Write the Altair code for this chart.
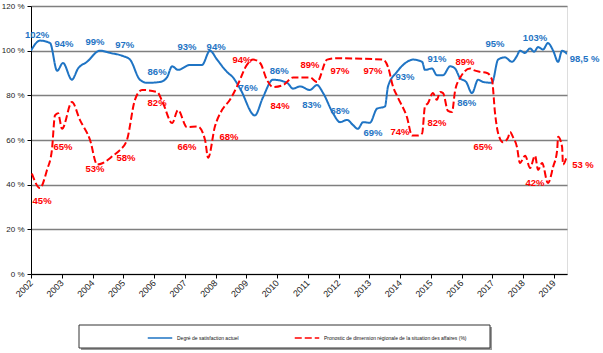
import altair as alt
import pandas as pd

# ---- data ----
blue_year = [2002.0, 2002.29, 2002.62, 2002.85, 2003.04, 2003.33, 2003.53, 2003.82, 2004.24, 2004.57,
             2004.99, 2005.22, 2005.54, 2005.77, 2006.20, 2006.42, 2006.59, 2006.78, 2007.17, 2007.56,
             2007.82, 2008.05, 2008.37, 2008.57, 2008.80, 2009.28, 2009.54, 2009.87, 2010.33, 2010.52,
             2010.75, 2011.07, 2011.30, 2011.50, 2011.82, 2012.05, 2012.28, 2012.47, 2012.63, 2012.80,
             2013.02, 2013.25, 2013.51, 2013.61, 2013.90, 2014.23, 2014.42, 2014.72, 2014.81, 2015.04,
             2015.20, 2015.40, 2015.63, 2015.79, 2015.95, 2016.15, 2016.34, 2016.54, 2016.70, 2016.99,
             2017.19, 2017.41, 2017.64, 2017.80, 2017.90, 2018.06, 2018.23, 2018.36, 2018.49, 2018.65,
             2018.81, 2018.98, 2019.14, 2019.27, 2019.43]
blue_val = [100, 104.5, 103.4, 91, 94.5, 87, 92, 95, 100, 99,
            97.6, 96, 87, 85.6, 86, 88, 93, 91.4, 93.6, 93.6,
            100, 96, 90.5, 88, 83, 71, 79, 87, 85.6, 83,
            84, 82.4, 84.6, 81, 72, 68, 69, 66.7, 65, 68,
            67.7, 74, 75, 84, 90.5, 95, 96, 95, 91.4, 92,
            89, 89, 93, 92, 87.7, 86, 81, 87, 86, 85.6,
            96, 97, 95, 97.6, 100, 99, 101, 99.5, 101.6, 100.5,
            103.4, 100, 95, 100, 98.5]

red_year = [2002.03, 2002.29, 2002.52, 2002.68, 2002.78, 2002.88, 2003.01, 2003.33, 2003.59, 2003.92,
            2004.15, 2004.34, 2004.67, 2004.89, 2005.12, 2005.38, 2005.61, 2006.10, 2006.29, 2006.59,
            2006.78, 2007.07, 2007.43, 2007.66, 2007.76, 2007.98, 2008.21, 2008.47, 2008.70, 2009.02,
            2009.22, 2009.45, 2009.67, 2009.87, 2010.20, 2010.52, 2011.07, 2011.30, 2011.63, 2011.95,
            2013.45, 2013.61, 2013.77, 2013.93, 2014.23, 2014.39, 2014.59, 2014.72, 2014.81, 2014.91,
            2015.07, 2015.20, 2015.30, 2015.40, 2015.56, 2015.69, 2015.79, 2015.95, 2016.28, 2016.37,
            2016.60, 2016.83, 2016.99, 2017.09, 2017.19, 2017.35, 2017.51, 2017.58, 2017.67, 2017.80,
            2017.90, 2018.07, 2018.23, 2018.39, 2018.49, 2018.62, 2018.81, 2018.98, 2019.11, 2019.14,
            2019.27, 2019.30, 2019.43]
red_val = [45, 38.5, 46.6, 55.5, 71, 72, 65, 77, 69, 60,
           49, 49.7, 53, 55.5, 60, 78, 82.4, 81.5, 76.6, 67.6,
           73.4, 65.8, 66, 60, 52, 66, 73.4, 78, 84, 93.6,
           96, 94.5, 87, 83.7, 84.6, 88, 88, 86, 96, 96.6,
           96, 92.7, 84, 79, 70, 62, 62, 63, 75, 76.5,
           81, 78, 81.5, 81, 73, 72.5, 82, 87.7, 92, 91.4,
           90.5, 90, 87, 72, 63, 59, 61, 63.6, 61.4, 57,
           49.7, 53, 47.5, 53, 46.6, 49.7, 40.7, 48, 55.5, 61.4,
           57, 49, 53]

blue_lab_text = ["102%", "94%", "99%", "97%", "86%", "93%", "94%", "76%", "86%", "83%",
                 "68%", "69%", "93%", "91%", "86%", "95%", "103%", "98,5 %"]
blue_lab_x = [2002.2, 2003.07, 2004.08, 2005.05, 2006.1, 2007.07, 2008.02, 2009.06, 2010.07, 2011.13,
              2012.05, 2013.12, 2014.16, 2015.2, 2016.17, 2017.09, 2018.39, 2020.0]
blue_lab_y = [107, 103, 103.9, 102.5, 90.5, 101.7, 101.7, 83.3, 91, 75.7,
              73, 63.2, 88.2, 96.3, 76.6, 103, 105.7, 96.3]

red_lab_text = ["45%", "65%", "53%", "58%", "82%", "66%", "68%", "94%", "84%", "89%",
                "97%", "97%", "74%", "82%", "89%", "65%", "42%", "53 %"]
red_lab_x = [2002.36, 2003.04, 2004.08, 2005.09, 2006.1, 2007.07, 2008.44, 2008.86, 2010.1, 2011.07,
             2012.05, 2013.12, 2014.0, 2015.2, 2016.11, 2016.7, 2018.39, 2019.95]
red_lab_y = [32.7, 56.9, 47, 52, 76.6, 56.9, 61.4, 95.8, 75.2, 93.6,
             91, 91, 63.6, 67.6, 95, 56.9, 40.7, 48.8]

series_names = ["Degré de satisfaction actuel",
                "Pronostic de dimension régionale de la situation des affaires (%)"]
colors = ["#1F74C4", "#FF0000"]

# ---- tables ----
lines = pd.concat([
    pd.DataFrame({"year": blue_year, "value": blue_val, "series": series_names[0]}),
    pd.DataFrame({"year": red_year, "value": red_val, "series": series_names[1]}),
])
blue_labels = pd.DataFrame({"year": blue_lab_x, "value": blue_lab_y, "text": blue_lab_text})
red_labels = pd.DataFrame({"year": red_lab_x, "value": red_lab_y, "text": red_lab_text})

FONT = "Liberation Sans"
x_axis = alt.Axis(values=list(range(2002, 2020)), format="d", title=None,
                  labelAngle=-45, labelAlign="right", labelBaseline="middle",
                  labelPadding=3, grid=False, tickSize=4, labelFontSize=9,
                  labelColor="#222", domainColor="#000", tickColor="#000",
                  labelFont=FONT, labelOverlap=False)
x_scale = alt.Scale(domain=[2002, 2019.43], nice=False, zero=False)
y_axis = alt.Axis(values=[0, 20, 40, 60, 80, 100, 120], labelExpr="datum.value + ' %'",
                  title=None, grid=True, gridColor="#7f7f7f", gridWidth=1.6,
                  tickSize=4, labelFontSize=8, labelColor="#222", labelFont=FONT,
                  domainColor="#000", tickColor="#000", labelPadding=3)
y_scale = alt.Scale(domain=[0, 120], nice=False)

x_enc = alt.X("year:Q", scale=x_scale, axis=x_axis)
y_enc = alt.Y("value:Q", scale=y_scale, axis=y_axis)

frame_shadow = alt.Chart(alt.Data(values=[{}])).mark_rect(fill="#9a9a9a").encode(
    x=alt.value(50), x2=alt.value(461), y=alt.value(321), y2=alt.value(344))
frame = alt.Chart(alt.Data(values=[{}])).mark_rect(fill="white", stroke="#333", strokeWidth=1).encode(
    x=alt.value(48), x2=alt.value(459), y=alt.value(319), y2=alt.value(342))

legend = alt.Legend(title=None, orient="none", legendX=116, legendY=319,
                    direction="horizontal", symbolType="stroke",
                    symbolSize=600, symbolStrokeWidth=1.5,
                    labelFontSize=5, labelFont=FONT, labelColor="#111",
                    columnPadding=52, labelLimit=300)

line_layer = alt.Chart(lines).mark_line(interpolate="monotone", strokeWidth=2, clip=True).encode(
    x=x_enc, y=y_enc,
    color=alt.Color("series:N", scale=alt.Scale(domain=series_names, range=colors), legend=legend),
    strokeDash=alt.StrokeDash("series:N",
                              scale=alt.Scale(domain=series_names, range=[[1, 0], [7, 3]]),
                              legend=legend),
    order="year:Q",
)

blue_text = alt.Chart(blue_labels).mark_text(font=FONT, fontSize=9.5, fontWeight="bold",
                                             color=colors[0]).encode(
    x=x_enc, y=y_enc, text="text:N")
red_text = alt.Chart(red_labels).mark_text(font=FONT, fontSize=9.5, fontWeight="bold",
                                           color=colors[1]).encode(
    x=x_enc, y=y_enc, text="text:N")

chart = alt.layer(frame_shadow, frame, line_layer, blue_text, red_text).properties(
    width=536, height=268,
    autosize=alt.AutoSizeParams(type="none"),
    padding={"left": 31, "top": 6, "right": 36, "bottom": 79},
).configure_view(stroke="#bdbdbd", strokeWidth=2).configure(background="white")

chart.save("out.html", embed_options={"renderer": "svg", "actions": False})
